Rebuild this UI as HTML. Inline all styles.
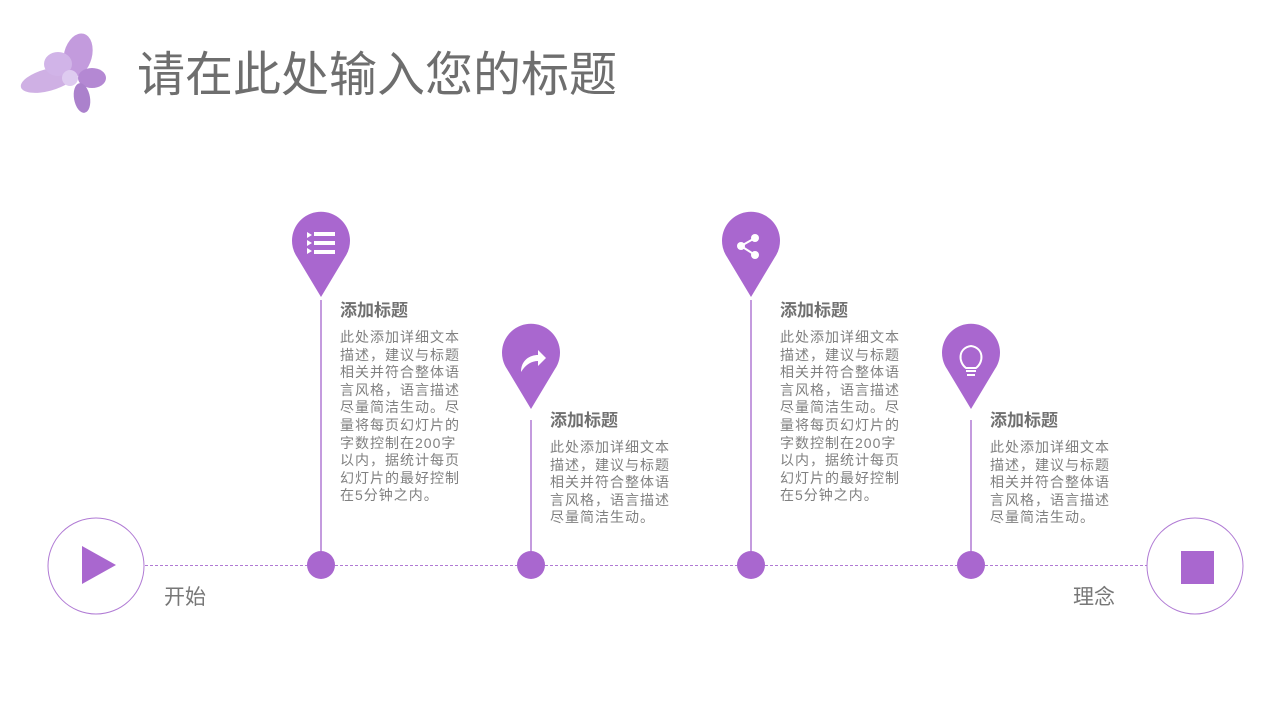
<!DOCTYPE html>
<html><head><meta charset="utf-8"><style>
body{margin:0;width:1280px;height:720px;background:#fff;position:relative;overflow:hidden;font-family:"Liberation Sans","Noto Sans CJK SC",sans-serif;}
.t{position:absolute;color:#777;}
.h{font-size:17px;font-weight:bold;color:#707070;line-height:20px;}
.b{font-size:14px;letter-spacing:1px;line-height:17.6px;color:#808080;white-space:nowrap;}
</style></head><body>
<svg width="1280" height="720" style="position:absolute;left:0;top:0">
<g opacity="0.85">
<ellipse cx="48" cy="80" rx="28" ry="11" fill="#c7a3e0" transform="rotate(-15 48 80)"/>
<ellipse cx="78" cy="55" rx="14" ry="22" fill="#b98ad8" transform="rotate(15 78 55)"/>
<ellipse cx="92" cy="78" rx="14" ry="10" fill="#a774cc"/>
<ellipse cx="82" cy="98" rx="8" ry="15" fill="#9d6cc4" transform="rotate(-10 82 98)"/>
<ellipse cx="58" cy="64" rx="14" ry="12" fill="#caa8e4"/>
<circle cx="70" cy="78" r="8" fill="#d9c2ee"/>
</g>
<line x1="145" y1="565.5" x2="1147" y2="565.5" stroke="#b07ad4" stroke-width="1" stroke-dasharray="3,2"/>
<circle cx="96" cy="566" r="48" fill="#fff" stroke="#b07ad4" stroke-width="1"/>
<polygon points="82,546 82,584 116,565" fill="#a967cf"/>
<circle cx="1195" cy="566" r="48" fill="#fff" stroke="#b07ad4" stroke-width="1"/>
<rect x="1181" y="551" width="33" height="33" fill="#a967cf"/>
<g stroke="#b07ad4">
<line x1="321" y1="300" x2="321" y2="565" stroke-width="1.5"/>
<line x1="531" y1="420" x2="531" y2="565" stroke-width="1.5"/>
<line x1="751" y1="300" x2="751" y2="565" stroke-width="1.5"/>
<line x1="971" y1="420" x2="971" y2="565" stroke-width="1.5"/>
</g>
<g fill="#a967cf">
<circle cx="321" cy="565" r="14"/><circle cx="531" cy="565" r="14"/><circle cx="751" cy="565" r="14"/><circle cx="971" cy="565" r="14"/>
<path d="M297,257 A29,29 0 1 1 345,257 L321,297 Z"/>
<path d="M507,369 A29,29 0 1 1 555,369 L531,409 Z"/>
<path d="M727,257 A29,29 0 1 1 775,257 L751,297 Z"/>
<path d="M947,369 A29,29 0 1 1 995,369 L971,409 Z"/>
</g>
<g fill="#fff">
<polygon points="307,232 312,235 307,238"/><rect x="314" y="232" width="21" height="4"/>
<polygon points="307,240 312,243 307,246"/><rect x="314" y="241" width="21" height="4"/>
<polygon points="307,248 312,251 307,254"/><rect x="314" y="250" width="21" height="4"/>
<path d="M521,372 C521,360 530,355 538,355 L538,350 L546,358 L538,366 L538,361 C532,361 526,364 521,372 Z"/>
<circle cx="741" cy="246" r="4"/><circle cx="755" cy="238" r="4"/><circle cx="755" cy="255" r="4"/>
</g>
<g stroke="#fff" fill="none" stroke-width="2">
<line x1="741" y1="246" x2="755" y2="238"/><line x1="741" y1="246" x2="755" y2="255"/>
<path d="M966,368 C958,362 958,348 971,346 C984,348 984,362 976,368 Z"/>
<line x1="966" y1="371" x2="976" y2="371"/><line x1="967" y1="375" x2="975" y2="375"/>
</g>
</svg>
<div class="t" style="left:137px;top:47px;font-size:48px;line-height:58px;color:#6e6e6e">请在此处输入您的标题</div>
<div class="t h" style="left:340px;top:301px">添加标题</div>
<div class="t b" style="left:340px;top:329px">此处添加详细文本<br>描述，建议与标题<br>相关并符合整体语<br>言风格，语言描述<br>尽量简洁生动。尽<br>量将每页幻灯片的<br>字数控制在200字<br>以内，据统计每页<br>幻灯片的最好控制<br>在5分钟之内。</div>
<div class="t h" style="left:550px;top:411px">添加标题</div>
<div class="t b" style="left:550px;top:439px">此处添加详细文本<br>描述，建议与标题<br>相关并符合整体语<br>言风格，语言描述<br>尽量简洁生动。</div>
<div class="t h" style="left:780px;top:301px">添加标题</div>
<div class="t b" style="left:780px;top:329px">此处添加详细文本<br>描述，建议与标题<br>相关并符合整体语<br>言风格，语言描述<br>尽量简洁生动。尽<br>量将每页幻灯片的<br>字数控制在200字<br>以内，据统计每页<br>幻灯片的最好控制<br>在5分钟之内。</div>
<div class="t h" style="left:990px;top:411px">添加标题</div>
<div class="t b" style="left:990px;top:439px">此处添加详细文本<br>描述，建议与标题<br>相关并符合整体语<br>言风格，语言描述<br>尽量简洁生动。</div>
<div class="t" style="left:164px;top:581px;font-size:21px;color:#777">开始</div>
<div class="t" style="left:1073px;top:581px;font-size:21px;color:#777">理念</div>
</body></html>
